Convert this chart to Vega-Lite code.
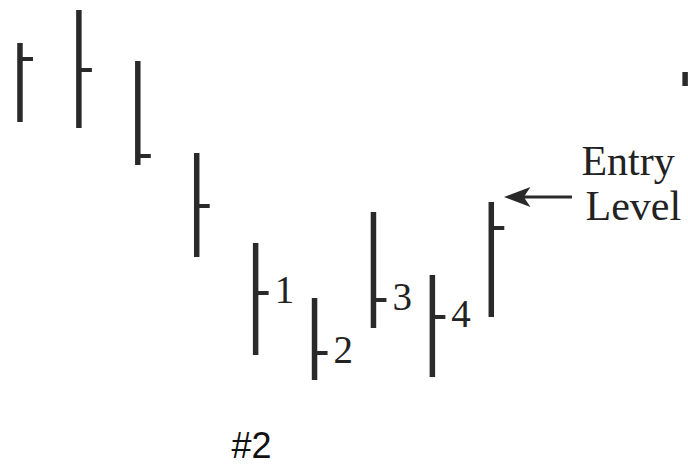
{
  "$schema": "https://vega.github.io/schema/vega-lite/v6.json",
  "autosize": {"type": "fit", "contains": "padding"},
  "width": 688,
  "height": 470,
  "padding": 0,
  "background": "white",
  "config": {"view": {"stroke": null}},
  "datasets": {
    "bars": [
      {"day": 0, "high": 427, "low": 348, "close": 411, "label": null},
      {"day": 1, "high": 460, "low": 342, "close": 400, "label": null},
      {"day": 2, "high": 409, "low": 305, "close": 314, "label": null},
      {"day": 3, "high": 317, "low": 213, "close": 264, "label": null},
      {"day": 4, "high": 227, "low": 115, "close": 177, "label": "1"},
      {"day": 5, "high": 172, "low": 90, "close": 117, "label": "2"},
      {"day": 6, "high": 258, "low": 142, "close": 170, "label": "3"},
      {"day": 7, "high": 195, "low": 93, "close": 153, "label": "4"},
      {"day": 8, "high": 268, "low": 153, "close": 242, "label": null},
      {"day": 11.29, "high": 398, "low": 384, "close": null, "label": null}
    ],
    "notes": [
      {"day": 9.53, "price": 295, "text": "Entry"},
      {"day": 9.6, "price": 250, "text": "Level"}
    ],
    "caption": [
      {"day": 3.59, "price": 12, "text": "#2"}
    ],
    "arrow": [
      {"from": 8.44, "to": 9.37, "price": 273}
    ]
  },
  "layer": [
    {
      "data": {"name": "bars"},
      "mark": {"type": "rule", "strokeWidth": 5.5, "color": "#2a2a2a", "strokeCap": "butt"},
      "encoding": {
        "x": {"field": "day", "type": "quantitative", "scale": {"domain": [-0.339, 11.322]}, "axis": null},
        "y": {"field": "high", "type": "quantitative", "scale": {"domain": [0, 470]}, "axis": null},
        "y2": {"field": "low"}
      }
    },
    {
      "data": {"name": "bars"},
      "transform": [{"filter": "datum.close != null"}],
      "mark": {"type": "tick", "orient": "horizontal", "size": 12, "thickness": 4, "xOffset": 7, "color": "#2a2a2a", "opacity": 1},
      "encoding": {
        "x": {"field": "day", "type": "quantitative", "scale": {"domain": [-0.339, 11.322]}, "axis": null},
        "y": {"field": "close", "type": "quantitative", "scale": {"domain": [0, 470]}, "axis": null}
      }
    },
    {
      "data": {"name": "bars"},
      "transform": [{"filter": "datum.label != null"}],
      "mark": {"type": "text", "align": "left", "baseline": "alphabetic", "dx": 19, "dy": 10, "font": "Liberation Serif", "fontSize": 39, "color": "#222222"},
      "encoding": {
        "x": {"field": "day", "type": "quantitative", "scale": {"domain": [-0.339, 11.322]}, "axis": null},
        "y": {"field": "close", "type": "quantitative", "scale": {"domain": [0, 470]}, "axis": null},
        "text": {"field": "label"}
      }
    },
    {
      "data": {"name": "notes"},
      "mark": {"type": "text", "align": "left", "baseline": "alphabetic", "font": "Liberation Serif", "fontSize": 42, "color": "#222222"},
      "encoding": {
        "x": {"field": "day", "type": "quantitative", "scale": {"domain": [-0.339, 11.322]}, "axis": null},
        "y": {"field": "price", "type": "quantitative", "scale": {"domain": [0, 470]}, "axis": null},
        "text": {"field": "text"}
      }
    },
    {
      "data": {"name": "caption"},
      "mark": {"type": "text", "align": "left", "baseline": "alphabetic", "font": "Liberation Sans", "fontSize": 36, "color": "#111111"},
      "encoding": {
        "x": {"field": "day", "type": "quantitative", "scale": {"domain": [-0.339, 11.322]}, "axis": null},
        "y": {"field": "price", "type": "quantitative", "scale": {"domain": [0, 470]}, "axis": null},
        "text": {"field": "text"}
      }
    },
    {
      "data": {"name": "arrow"},
      "mark": {"type": "rule", "strokeWidth": 3, "color": "#2a2a2a"},
      "encoding": {
        "x": {"field": "from", "type": "quantitative", "scale": {"domain": [-0.339, 11.322]}, "axis": null},
        "x2": {"field": "to"},
        "y": {"field": "price", "type": "quantitative", "scale": {"domain": [0, 470]}, "axis": null}
      }
    },
    {
      "data": {"name": "arrow"},
      "mark": {"type": "point", "filled": true, "opacity": 1, "color": "#2a2a2a", "size": 700, "shape": "M-1,0L1,-0.75L0.5,0L1,0.75Z"},
      "encoding": {
        "x": {"field": "from", "type": "quantitative", "scale": {"domain": [-0.339, 11.322]}, "axis": null},
        "y": {"field": "price", "type": "quantitative", "scale": {"domain": [0, 470]}, "axis": null}
      }
    }
  ]
}
